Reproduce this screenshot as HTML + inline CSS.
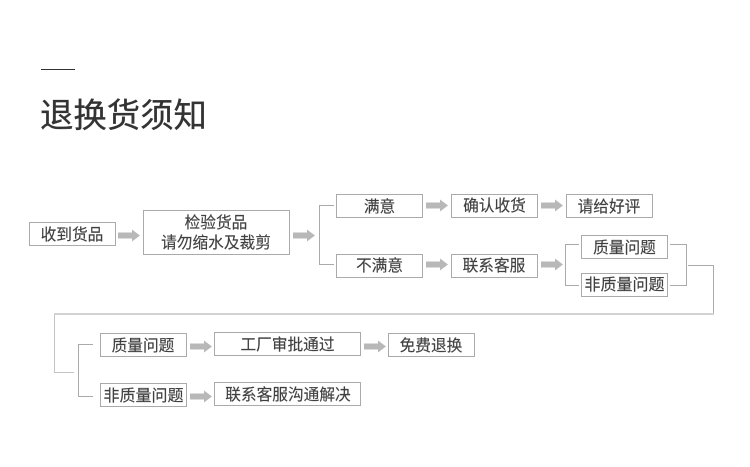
<!DOCTYPE html>
<html lang="zh">
<head>
<meta charset="utf-8">
<style>
html,body{margin:0;padding:0;background:#fff;width:750px;height:467px;overflow:hidden}
svg{display:block}
text{font-family:"Liberation Sans","Noto Sans CJK SC",sans-serif;font-size:15.7px;fill:#404040;stroke:#404040;stroke-width:.15;text-anchor:middle}
.b{fill:#fff;stroke:#aaa;stroke-width:1}
.l{fill:none;stroke:#aaa;stroke-width:1}
.a{fill:#b8b8b8}
</style>
</head>
<body>
<svg width="750" height="467" viewBox="0 0 750 467" xmlns="http://www.w3.org/2000/svg">
<defs><path id="ar" class="a" d="M0 -3H14V-6L22 0L14 6V3H0Z"/></defs>
<rect x="41" y="69" width="34" height="1" fill="#333"/>
<text x="40" y="127" style="font-size:33.4px;text-anchor:start;fill:#333;stroke:#333;stroke-width:.3">退换货须知</text>

<rect class="b" x="29.5" y="222.5" width="86" height="23"/>
<text x="72" y="240">收到货品</text>
<rect class="b" x="143.5" y="210.5" width="146" height="44"/>
<text x="216" y="228">检验货品</text>
<text x="216" y="248">请勿缩水及裁剪</text>
<rect class="b" x="336.5" y="194.5" width="86" height="23"/>
<text x="379.5" y="212">满意</text>
<rect class="b" x="336.5" y="254.5" width="86" height="23"/>
<text x="379.5" y="271">不满意</text>
<rect class="b" x="451.5" y="194.5" width="86" height="23"/>
<text x="494.5" y="211">确认收货</text>
<rect class="b" x="566.5" y="194.5" width="86" height="23"/>
<text x="609" y="212">请给好评</text>
<rect class="b" x="451.5" y="254.5" width="86" height="23"/>
<text x="494" y="271">联系客服</text>
<rect class="b" x="581.5" y="235.5" width="86" height="23"/>
<text x="624.5" y="253">质量问题</text>
<rect class="b" x="581.5" y="273.5" width="86" height="23"/>
<text x="624.5" y="290" style="font-size:16px">非质量问题</text>

<rect class="b" x="100.5" y="333.5" width="86" height="23"/>
<text x="143" y="351">质量问题</text>
<rect class="b" x="214.5" y="332.5" width="146" height="23"/>
<text x="287.5" y="350">工厂审批通过</text>
<rect class="b" x="388.5" y="333.5" width="86" height="23"/>
<text x="431" y="351">免费退换</text>
<rect class="b" x="100.5" y="383.5" width="86" height="23"/>
<text x="143.5" y="401" style="font-size:16px">非质量问题</text>
<rect class="b" x="214.5" y="382.5" width="146" height="23"/>
<text x="288" y="400">联系客服沟通解决</text>

<path class="l" d="M334 205.5H319.5V264.5H334"/>
<path class="l" d="M579 244.5H565.5V285.5H579"/>
<path class="l" d="M670 244.5H686.5V285.5H670"/>
<path class="l" d="M688 265.5H713.5V314"/>
<path d="M714 314H54.5V372.5H74" fill="none" stroke="#c4c4c4" stroke-width="1"/>
<rect x="54" y="313" width="660" height="2" fill="#d2d2d2"/>
<path class="l" d="M93 344.5H78.5V396.5H93"/>

<use href="#ar" x="118" y="235.5"/>
<use href="#ar" x="293" y="235.5"/>
<use href="#ar" x="426" y="205.5"/>
<use href="#ar" x="541" y="205.5"/>
<use href="#ar" x="426" y="264.5"/>
<use href="#ar" x="541" y="264.5"/>
<use href="#ar" x="190" y="346.5"/>
<use href="#ar" x="364" y="346.5"/>
<use href="#ar" x="190" y="396.5"/>
</svg>
</body>
</html>
